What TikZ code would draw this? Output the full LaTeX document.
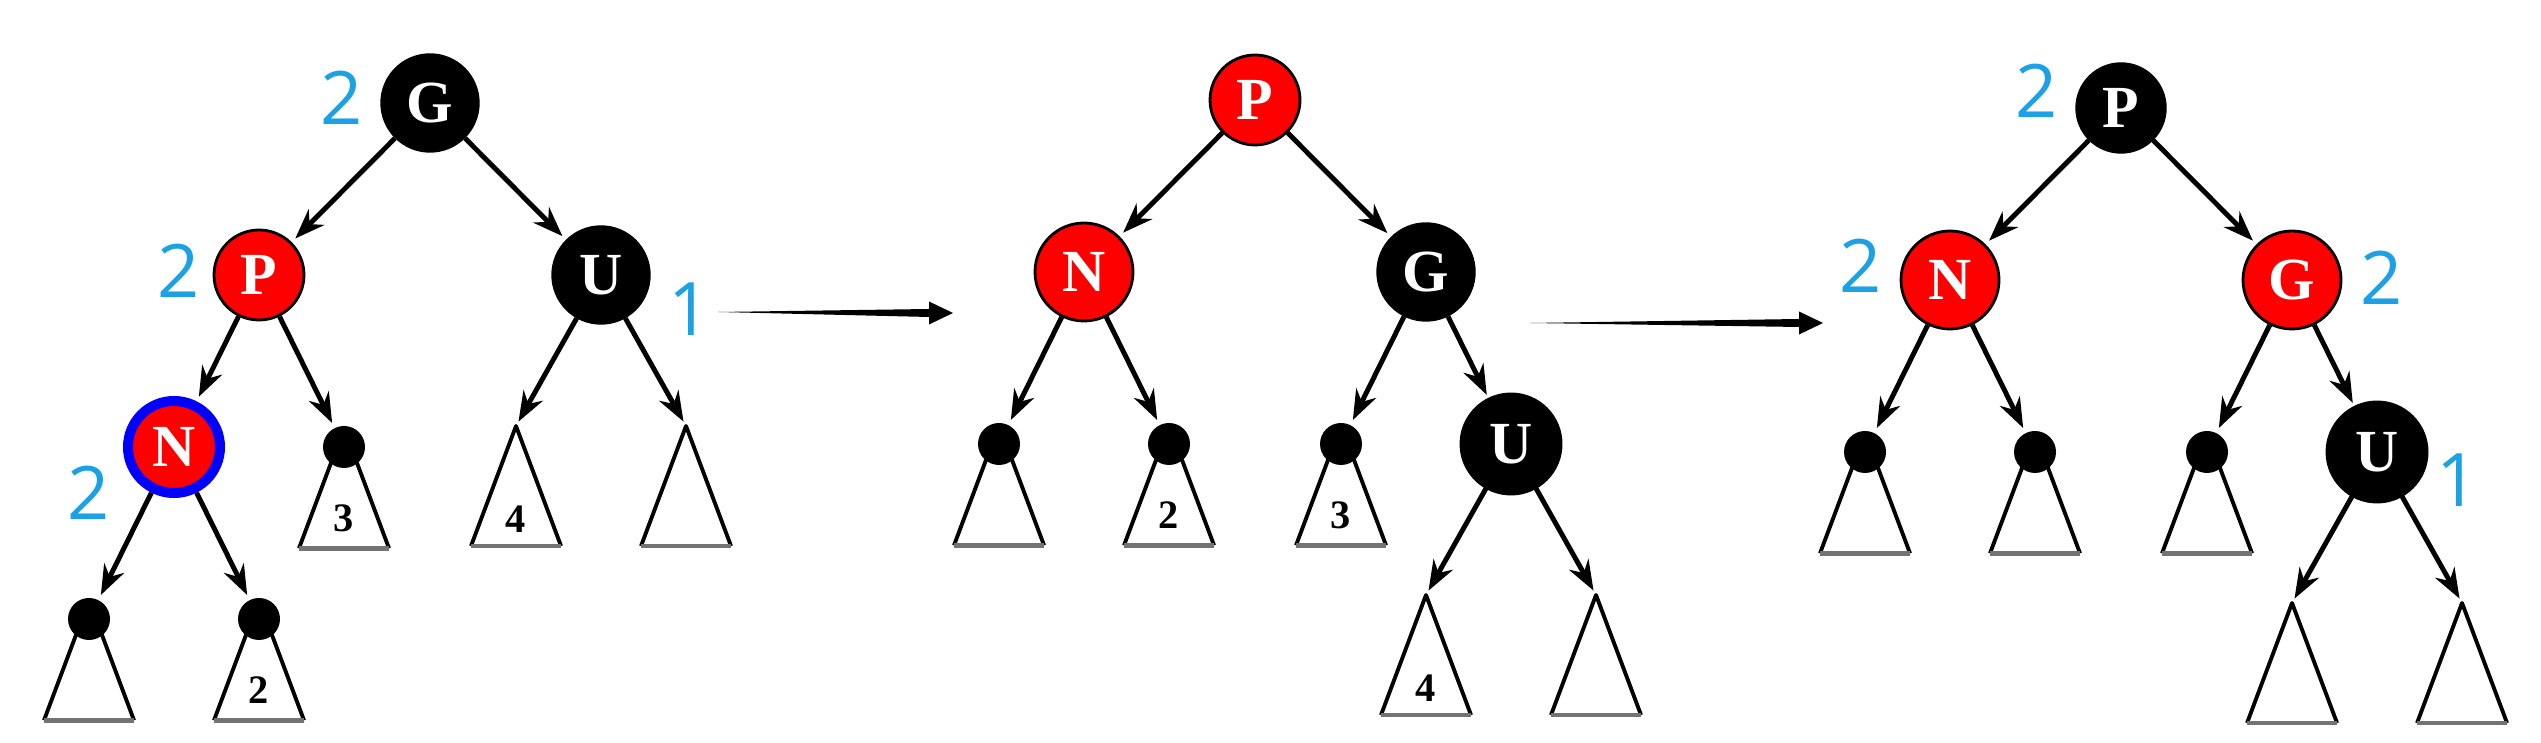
\documentclass[tikz,border=0pt]{standalone}
\usepackage{fontspec}
\setmainfont{Liberation Serif}
\newfontfamily\numfont{Open Sans}
\usepackage{tikz}
\usetikzlibrary{arrows.meta}

\definecolor{numblue}{RGB}{28,162,228}

\tikzset{
  blknd/.style={circle, draw=black, fill=black, text=white, minimum size=0.98cm, inner sep=0pt,
    font=\fontsize{17}{17}\selectfont\bfseries},
  rednd/.style={blknd, fill=red, line width=0.8pt},
  ring/.style={draw=blue, line width=0.1cm, minimum size=0.92cm},
  leaf/.style={circle, fill=black, minimum size=0.42cm, inner sep=0pt},
  num/.style={text=numblue, inner sep=2pt, font=\numfont\fontsize{21}{21}\selectfont},
  sub/.style={draw=black, line width=1.1pt, line join=round},
  subbase/.style={draw=black!55, line width=1.4pt},
  sublbl/.style={font=\fontsize{11.5}{11.5}\selectfont\bfseries, inner sep=0pt}
}

% triangle hanging from an apex
\newcommand{\subtri}[1]{%
  \draw[sub] (#1) ++(-0.45,-1.2) coordinate (bl) -- (#1) -- ++(0.45,-1.2) coordinate (br);
  \draw[subbase] (bl) -- (br);}

% tapered arrow between two trees
\newcommand{\fatarrow}[2]{%
  \fill (#1) -- ([shift={(-0.24,0.04)}]#2) -- ([shift={(-0.24,0.115)}]#2) -- (#2)
    -- ([shift={(-0.24,-0.115)}]#2) -- ([shift={(-0.24,-0.04)}]#2) -- cycle;}

\begin{document}
\begin{tikzpicture}[level distance=1.72cm, label distance=1mm,
    edge from parent/.style={draw, line width=1.4pt, -{Stealth[length=0.3cm, width=0.22cm]}, shorten >=0.05cm}]
\useasboundingbox (0,0) rectangle (25.41,-7.43);

% before
\node[blknd, label={[num, yshift=0.05cm]left:2}] (g1) at (4.30,-1.03) {G} [sibling distance=3.42cm]
child{node[rednd, minimum size=0.9cm, label={[num, xshift=0.05cm, yshift=0.04cm]left:2}] (p1) {P} [sibling distance=1.70cm]
    child{node[rednd, ring, label={[num, xshift=0.04cm, yshift=-0.46cm]left:2}] (n1) {N}
        child{node[leaf] (d1) {}}
        child{node[leaf] (d2) {}}
    }
    child{node[leaf] (d3) {}}
}
child{node[blknd, label={[num, yshift=-0.34cm]right:1}] (u1) {U} [sibling distance=1.70cm]
    child[level distance=1.51cm]{coordinate (t1)}
    child[level distance=1.51cm]{coordinate (t2)}
};

% after the rotation
\node[rednd, minimum size=0.9cm] (p2) at (12.55,-1.00) {P} [sibling distance=3.42cm]
child{node[rednd] (n2) {N} [sibling distance=1.70cm]
    child{node[leaf] (d4) {}}
    child{node[leaf] (d5) {}}
}
child{node[blknd] (g2) {G} [sibling distance=1.70cm]
    child{node[leaf] (d6) {}}
    child{node[blknd] (u2) {U}
        child[level distance=1.51cm]{coordinate (t3)}
        child[level distance=1.51cm]{coordinate (t4)}
    }
};

% after recolouring
\node[blknd, minimum size=0.9cm, label={[num, yshift=0.17cm]left:2}] (p3) at (21.21,-1.08) {P} [sibling distance=3.42cm]
child{node[rednd, label={[num, yshift=0.14cm]left:2}] (n3) {N} [sibling distance=1.70cm]
    child{node[leaf] (d7) {}}
    child{node[leaf] (d8) {}}
}
child{node[rednd, label={[num, yshift=0.02cm]right:2}] (g3) {G} [sibling distance=1.70cm]
    child{node[leaf] (d9) {}}
    child{node[blknd, label={[num, xshift=-0.08cm, yshift=-0.28cm]right:1}] (u3) {U}
        child[level distance=1.51cm]{coordinate (t5)}
        child[level distance=1.51cm]{coordinate (t6)}
    }
};

\foreach \d in {d1,d2,d3,d4,d5,d6,d7,d8,d9} {\subtri{[yshift=-0.03cm]\d.north}}
\foreach \t in {t1,t2,t3,t4,t5,t6} {\subtri{\t}}

\node[sublbl] (s1) at ([yshift=-0.93cm]d2.north) {2};
\node[sublbl] (s2) at ([yshift=-0.93cm]d3.north) {3};
\node[sublbl] (s3) at ([yshift=-0.93cm]t1) {4};
\node[sublbl] (s4) at ([yshift=-0.93cm]d5.north) {2};
\node[sublbl] (s5) at ([yshift=-0.93cm]d6.north) {3};
\node[sublbl] (s6) at ([yshift=-0.93cm]t3) {4};

\coordinate (a1) at (7.18,-3.12);
\coordinate (b1) at (9.53,-3.13);
\coordinate (a2) at (15.30,-3.23);
\coordinate (b2) at (18.23,-3.23);
\fatarrow{a1}{b1}
\fatarrow{a2}{b2}
\end{tikzpicture}
\end{document}
